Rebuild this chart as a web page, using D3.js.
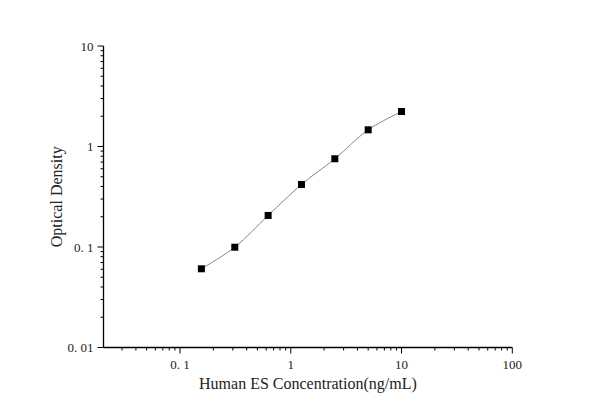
<!DOCTYPE html>
<html>
<head>
<meta charset="utf-8">
<script src="https://cdn.jsdelivr.net/npm/d3@7"></script>
<style>
  body { margin: 0; background: #fff; }
  text { font-family: "Liberation Serif", "Times New Roman", serif; fill: #222; }
</style>
</head>
<body>
<div id="chart"></div>
<script>
// DATA ===========================================================================================
const concentration = [0.156, 0.3125, 0.625, 1.25, 2.5, 5, 10]
const density = [0.0607, 0.0995, 0.206, 0.419, 0.755, 1.466, 2.23]
const xTicks = [0.1, 1, 10, 100]
const xTickLabels = ['0. 1', '1', '10', '100']
const yTicks = [0.01, 0.1, 1, 10]
const yTickLabels = ['0. 01', '0. 1', '1', '10']

// SET UP =========================================================================================
const width = 600
const height = 419
const box = {left: 103.5, right: 512.3, top: 46, bottom: 347.5}

const svg = d3.select('#chart')
  .append('svg')
  .attr('width', width)
  .attr('height', height)

// SCALES AND AXES ================================================================================
const x = d3.scaleLog().domain([0.0204, 100]).range([box.left, box.right])
const y = d3.scaleLog().domain([0.01, 10]).range([box.bottom, box.top])

const minorX = x.ticks().filter(t => !xTicks.includes(t) && t >= 0.02)
const minorY = y.ticks().filter(t => !yTicks.includes(t))

const xAxis = svg.append('g').attr('transform', `translate(0, ${box.bottom})`)
xAxis.append('line').attr('x1', box.left).attr('x2', box.right).attr('stroke', '#000').attr('stroke-width', 1.3)
xAxis.selectAll('.minor').data(minorX).join('line')
  .attr('x1', d => x(d)).attr('x2', d => x(d)).attr('y1', 0).attr('y2', 3)
  .attr('stroke', '#000')
xAxis.selectAll('.major').data(xTicks).join('line')
  .attr('x1', d => x(d)).attr('x2', d => x(d)).attr('y1', 0).attr('y2', 6)
  .attr('stroke', '#000')
xAxis.selectAll('text').data(xTicks).join('text')
  .attr('x', d => x(d)).attr('y', 21)
  .attr('text-anchor', 'middle')
  .attr('font-size', 13)
  .text((d, i) => xTickLabels[i])

const yAxis = svg.append('g').attr('transform', `translate(${box.left}, 0)`)
yAxis.append('line').attr('y1', box.top).attr('y2', box.bottom).attr('stroke', '#000').attr('stroke-width', 1.3)
yAxis.selectAll('.minor').data(minorY).join('line')
  .attr('y1', d => y(d)).attr('y2', d => y(d)).attr('x1', 0).attr('x2', -3)
  .attr('stroke', '#000')
yAxis.selectAll('.major').data(yTicks).join('line')
  .attr('y1', d => y(d)).attr('y2', d => y(d)).attr('x1', 0).attr('x2', -6)
  .attr('stroke', '#000')
yAxis.selectAll('text').data(yTicks).join('text')
  .attr('x', -10).attr('y', d => y(d) + 4.5)
  .attr('text-anchor', 'end')
  .attr('font-size', 13)
  .text((d, i) => yTickLabels[i])

svg.append('text')
  .attr('x', (box.left + box.right) / 2).attr('y', 389)
  .attr('text-anchor', 'middle')
  .attr('font-size', 16)
  .text('Human ES Concentration(ng/mL)')

svg.append('text')
  .attr('transform', `translate(62, ${(box.top + box.bottom) / 2}) rotate(-90)`)
  .attr('text-anchor', 'middle')
  .attr('font-size', 16)
  .text('Optical Density')

// MARKS ==========================================================================================
const pts = concentration.map((c, i) => [c, density[i]])

svg.append('path')
  .datum(pts)
  .attr('fill', 'none')
  .attr('stroke', '#888')
  .attr('stroke-width', 1)
  .attr('d', d3.line().x(d => x(d[0])).y(d => y(d[1])).curve(d3.curveCatmullRom))

svg.selectAll('.pt').data(pts).join('rect')
  .attr('x', d => x(d[0]) - 3.5)
  .attr('y', d => y(d[1]) - 3.5)
  .attr('width', 7)
  .attr('height', 7)
  .attr('fill', '#000')
</script>
</body>
</html>
